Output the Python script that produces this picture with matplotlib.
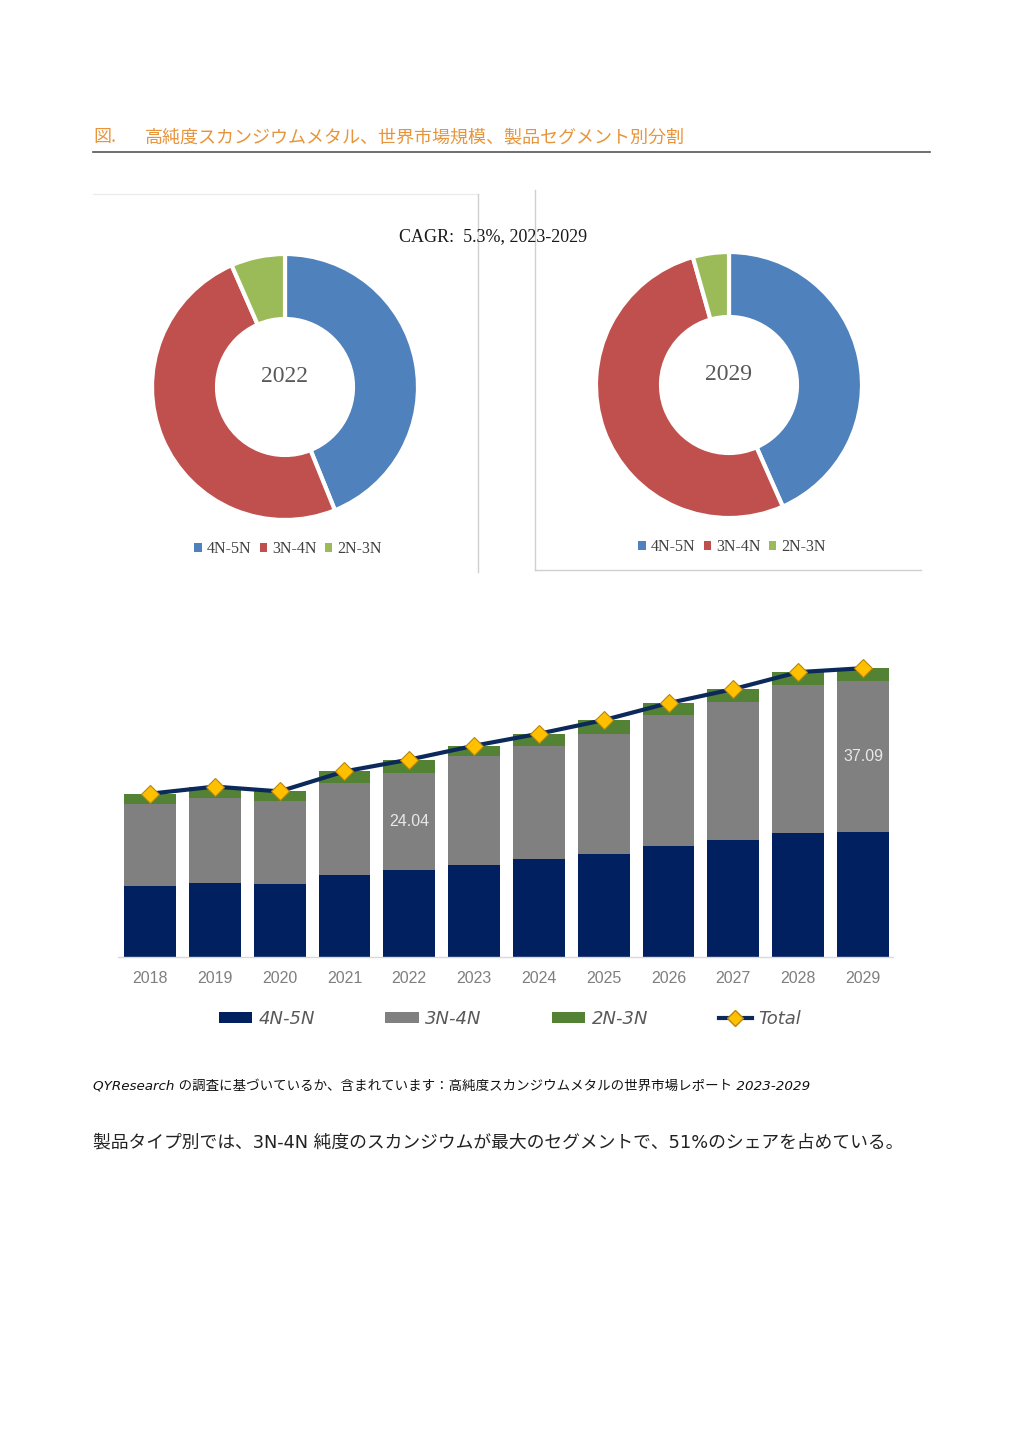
import matplotlib
matplotlib.use("Agg")
import matplotlib.pyplot as plt
from matplotlib.patches import Patch
from matplotlib.lines import Line2D

plt.rcParams['font.family'] = ['DejaVu Sans', 'Noto Sans CJK JP']

# Data
years = ['2018', '2019', '2020', '2021', '2022', '2023',
         '2024', '2025', '2026', '2027', '2028', '2029']
seg_names = ['4N-5N', '3N-4N', '2N-3N']
seg_4n5n = [17.53, 18.26, 17.85, 20.07, 21.29, 22.69, 24.08, 25.39, 27.19, 28.75, 30.47, 30.79]
seg_3n4n = [20.07, 20.72, 20.48, 22.77, 24.04, 26.62, 27.85, 29.48, 32.19, 33.82, 36.36, 37.09]
seg_2n3n = [2.54, 2.90, 2.38, 2.78, 3.19, 2.62, 2.95, 3.36, 3.03, 3.28, 3.19, 3.11]
labelled_years = ['2022', '2029']
donut_years = ['2022', '2029']
cagr_text = 'CAGR:  5.3%, 2023-2029'

totals = [a + b + c for a, b, c in zip(seg_4n5n, seg_3n4n, seg_2n3n)]

W, H = 1024, 1448
fig = plt.figure(figsize=(W / 100, H / 100), dpi=100)


def fx(px):
    return px / W


def fy(py):
    return 1 - py / H


def box(left, top, right, bottom):
    return [fx(left), fy(bottom), (right - left) / W, (bottom - top) / H]


# title and rule
orange = '#E8943A'
fig.text(fx(93), fy(137), '図.', color=orange, fontsize=13,
         family=['Noto Sans CJK JP'], va='center', ha='left')
fig.text(fx(145), fy(137), '高純度スカンジウムメタル、世界市場規模、製品セグメント別分割',
         color=orange, fontsize=13, family=['Noto Sans CJK JP'], va='center', ha='left')
fig.add_artist(Line2D([fx(93), fx(930)], [fy(152), fy(152)], color='#555555', lw=1.2))

# donut panel frames
pc = '#D0D0D0'
fig.add_artist(Line2D([fx(93), fx(478)], [fy(194), fy(194)], color='#EBEBEB', lw=1))
fig.add_artist(Line2D([fx(478), fx(478)], [fy(194), fy(572)], color=pc, lw=1))
fig.add_artist(Line2D([fx(535), fx(535)], [fy(190), fy(570)], color=pc, lw=1))
fig.add_artist(Line2D([fx(535), fx(921)], [fy(570), fy(570)], color=pc, lw=1))

fig.text(fx(493), fy(237), cagr_text, family=['Liberation Serif'], fontsize=13,
         ha='center', va='center', color='#1a1a1a')

donut_colors = ['#4F81BD', '#C0504D', '#9BBB59']
centers = [(285, 387), (729, 385)]
r_out, r_in = 133, 68
legend_y = [549, 547]
for k, yr in enumerate(donut_years):
    i = years.index(yr)
    vals = [seg_4n5n[i], seg_3n4n[i], seg_2n3n[i]]
    cx, cy = centers[k]
    ax = fig.add_axes(box(cx - r_out - 4, cy - r_out - 4, cx + r_out + 4, cy + r_out + 4))
    ax.pie(vals, colors=donut_colors, startangle=90, counterclock=False, radius=1,
           wedgeprops=dict(width=(r_out - r_in) / r_out, edgecolor='white', linewidth=3))
    lim = (r_out + 4) / r_out
    ax.set_xlim(-lim, lim)
    ax.set_ylim(-lim, lim)
    ax.text(0, 0.08, yr, ha='center', va='center', fontsize=17, color='#595959',
            family=['Liberation Serif'])
    handles = [Patch(facecolor=c, edgecolor='none') for c in donut_colors]
    fig.legend(handles, seg_names, loc='center', bbox_to_anchor=(fx(cx + 3), fy(legend_y[k])),
               ncol=3, frameon=False, handlelength=0.45, handleheight=0.45, handletextpad=0.3,
               columnspacing=0.55, prop={'family': 'Liberation Serif', 'size': 11.5},
               labelcolor='#404040')

# stacked bar chart
navy = '#002060'
bar_colors = [navy, '#808080', '#548235']
y_per_px = 0.2458
ax = fig.add_axes(box(118, 640, 893, 957))
x = list(range(len(years)))
ax.bar(x, seg_4n5n, width=0.8, color=bar_colors[0], label=seg_names[0])
ax.bar(x, seg_3n4n, width=0.8, bottom=seg_4n5n, color=bar_colors[1], label=seg_names[1])
bottom2 = [a + b for a, b in zip(seg_4n5n, seg_3n4n)]
ax.bar(x, seg_2n3n, width=0.8, bottom=bottom2, color=bar_colors[2], label=seg_names[2])
ax.plot(x, totals, color='#0B2A5B', lw=3, marker='D', markersize=9,
        markerfacecolor='#FFC000', markeredgecolor='#B8860B', markeredgewidth=0.8,
        label='Total', zorder=5)

for yr in labelled_years:
    i = years.index(yr)
    ax.text(i, seg_4n5n[i] + seg_3n4n[i] / 2, f'{seg_3n4n[i]:.2f}', ha='center', va='center',
            color='#E8E8E8', fontsize=11.5, family=['Liberation Sans'])

ax.set_xlim(-0.494, 11.463)
ax.set_ylim(0, (957 - 640) * y_per_px)
for s in ['top', 'right', 'left']:
    ax.spines[s].set_visible(False)
ax.spines['bottom'].set_color('#D9D9D9')
ax.spines['bottom'].set_linewidth(1)
ax.set_yticks([])
ax.set_xticks(x)
ax.set_xticklabels(years, family=['Liberation Sans'], fontsize=11.5, color='#7F7F7F')
ax.tick_params(axis='x', length=0, pad=10)

handles = [Patch(facecolor=c, edgecolor='none') for c in bar_colors]
handles.append(Line2D([0], [0], color='#0B2A5B', lw=3, marker='D', markersize=8,
                      markerfacecolor='#FFC000', markeredgecolor='#B8860B'))
fig.legend(handles, seg_names + ['Total'], loc='center', bbox_to_anchor=(fx(510), fy(1019)),
           ncol=4, frameon=False, handlelength=1.85, handleheight=0.6, handletextpad=0.35,
           columnspacing=3.9, prop={'family': 'DejaVu Sans', 'style': 'italic', 'size': 13},
           labelcolor='#595959')

# source note and summary
fig.text(fx(93), fy(1087),
         'QYResearch の調査に基づいているか、含まれています：高純度スカンジウムメタルの世界市場レポート 2023-2029',
         fontsize=9.7, style='italic', ha='left', va='center', color='#111111',
         family=['DejaVu Sans', 'Noto Sans CJK JP'])
fig.text(fx(93), fy(1142),
         '製品タイプ別では、3N-4N 純度のスカンジウムが最大のセグメントで、51%のシェアを占めている。',
         fontsize=12.8, ha='left', va='center', color='#222222',
         family=['DejaVu Sans', 'Noto Sans CJK JP'])

fig.savefig('out.png', dpi=100, facecolor='white')
